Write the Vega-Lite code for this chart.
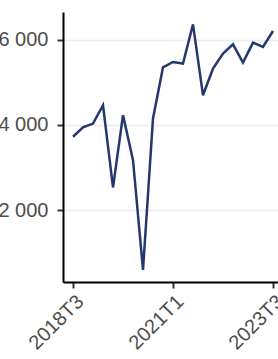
{
  "$schema": "https://vega.github.io/schema/vega-lite/v6.json",
  "autosize": {"type": "none"},
  "width": 215,
  "height": 270,
  "padding": {"left": 63, "top": 12, "right": 0, "bottom": 77},
  "background": "white",
  "config": {
    "view": {"stroke": null},
    "font": "Liberation Sans",
    "axis": {
      "labelFont": "Liberation Sans",
      "labelFontSize": 20,
      "labelColor": "#4D4D4D",
      "domainColor": "#000000",
      "domainWidth": 2,
      "tickColor": "#333333",
      "tickWidth": 2,
      "tickSize": 6,
      "title": null
    }
  },
  "data": {
    "values": [
      {"i": 0, "periode": "2018T3", "valeur": 3720},
      {"i": 1, "periode": "2018T4", "valeur": 3940},
      {"i": 2, "periode": "2019T1", "valeur": 4030},
      {"i": 3, "periode": "2019T2", "valeur": 4460},
      {"i": 4, "periode": "2019T3", "valeur": 2530},
      {"i": 5, "periode": "2019T4", "valeur": 4230},
      {"i": 6, "periode": "2020T1", "valeur": 3170},
      {"i": 7, "periode": "2020T2", "valeur": 593},
      {"i": 8, "periode": "2020T3", "valeur": 4150},
      {"i": 9, "periode": "2020T4", "valeur": 5350},
      {"i": 10, "periode": "2021T1", "valeur": 5477},
      {"i": 11, "periode": "2021T2", "valeur": 5440},
      {"i": 12, "periode": "2021T3", "valeur": 6361},
      {"i": 13, "periode": "2021T4", "valeur": 4696},
      {"i": 14, "periode": "2022T1", "valeur": 5322},
      {"i": 15, "periode": "2022T2", "valeur": 5674},
      {"i": 16, "periode": "2022T3", "valeur": 5892},
      {"i": 17, "periode": "2022T4", "valeur": 5463},
      {"i": 18, "periode": "2023T1", "valeur": 5932},
      {"i": 19, "periode": "2023T2", "valeur": 5829},
      {"i": 20, "periode": "2023T3", "valeur": 6204}
    ]
  },
  "mark": {"type": "line", "color": "#24386E", "strokeWidth": 2.5, "clip": false},
  "encoding": {
    "x": {
      "field": "i",
      "type": "quantitative",
      "scale": {"domain": [-1, 20.5], "nice": false, "zero": false},
      "axis": {
        "values": [0, 10, 20],
        "grid": false,
        "labelAngle": -45,
        "labelAlign": "right",
        "labelBaseline": "top",
        "labelPadding": 3,
        "labelExpr": "datum.value == 0 ? '2018T3' : datum.value == 10 ? '2021T1' : '2023T3'"
      }
    },
    "y": {
      "field": "valeur",
      "type": "quantitative",
      "scale": {"domain": [310, 6650], "nice": false, "zero": false},
      "axis": {
        "values": [2000, 4000, 6000],
        "grid": true,
        "gridColor": "#EBEBEB",
        "gridWidth": 1.5,
        "labelPadding": 9,
        "labelExpr": "replace(format(datum.value, ',d'), ',', ' ')"
      }
    }
  }
}
